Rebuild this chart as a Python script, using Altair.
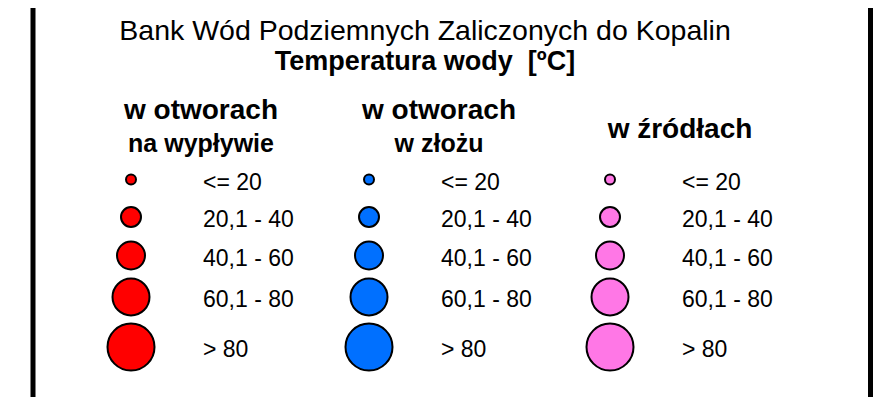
import altair as alt
import pandas as pd

# ---- data ----
group_ids = ["otwory_wyplyw", "otwory_zloze", "zrodla"]
header_line1 = ["w otworach", "w otworach", "w źródłach"]
header_line2 = ["na wypływie", "w złożu", ""]
group_colors = ["#FF0000", "#0070FF", "#FF77E6"]
classes = ["<= 20", "20,1 - 40", "40,1 - 60", "60,1 - 80", "> 80"]

title_text = "Bank Wód Podziemnych Zaliczonych do Kopalin"
subtitle_text = "Temperatura wody\u00a0\u00a0[ºC]"

rows = [{"group": g, "gi": i, "cls": c, "ci": j}
        for i, g in enumerate(group_ids) for j, c in enumerate(classes)]
df = pd.DataFrame(rows)
hdr = pd.DataFrame({"group": group_ids, "gi": list(range(len(group_ids))),
                    "line1": header_line1, "line2": header_line2})

FONT = "Liberation Sans"

x_scale = alt.Scale(domain=[0, 1, 2], range=[123, 361, 602])
y_scale = alt.Scale(domain=[0, 1, 2, 3, 4], range=[171.5, 209, 247.5, 289, 339])
x_enc = alt.X("gi:Q", scale=x_scale, axis=None)
y_enc = alt.Y("ci:Q", scale=y_scale, axis=None)

circles = alt.Chart(df).mark_point(shape="circle", filled=True, stroke="black", strokeWidth=2, opacity=1, fillOpacity=1, strokeOpacity=1).encode(
    x=x_enc,
    y=y_enc,
    size=alt.Size("cls:O", scale=alt.Scale(type="ordinal", domain=classes, range=[100, 400, 784, 1369, 2209]), legend=None),
    fill=alt.Fill("group:N", scale=alt.Scale(domain=group_ids, range=group_colors), legend=None),
)

labels = alt.Chart(df).mark_text(align="left", baseline="middle", dx=72, dy=3, fontSize=23, font=FONT, color="black").encode(
    x=x_enc, y=y_enc, text="cls:N"
)

h1 = alt.Chart(hdr).transform_filter("datum.line2 != ''").mark_text(
    align="center", baseline="middle", dx=70, fontSize=28, fontWeight="bold", font=FONT, color="black"
).encode(x=x_enc, y=alt.value(103), text="line1:N")

h2 = alt.Chart(hdr).transform_filter("datum.line2 != ''").mark_text(
    align="center", baseline="middle", dx=70, fontSize=25, fontWeight="bold", font=FONT, color="black"
).encode(x=x_enc, y=alt.value(136), text="line2:N")

h3 = alt.Chart(hdr).transform_filter("datum.line2 == ''").mark_text(
    align="center", baseline="middle", dx=70, fontSize=28, fontWeight="bold", font=FONT, color="black"
).encode(x=x_enc, y=alt.value(122), text="line1:N")

tdf = pd.DataFrame({"t": [title_text], "s": [subtitle_text]})
t1 = alt.Chart(tdf).mark_text(align="center", baseline="middle", fontSize=28.5, font=FONT, color="black").encode(
    x=alt.value(417), y=alt.value(23), text="t:N")
t2 = alt.Chart(tdf).mark_text(align="center", baseline="middle", fontSize=27, fontWeight="bold", font=FONT, color="black").encode(
    x=alt.value(417), y=alt.value(54), text="s:N")

left = alt.Chart(tdf).mark_rule(color="black", strokeWidth=5).encode(x=alt.value(25), y=alt.value(0), y2=alt.value(389))
right = alt.Chart(tdf).mark_rule(color="black", strokeWidth=5).encode(x=alt.value(862.5), y=alt.value(0), y2=alt.value(389))

chart = alt.layer(left, right, t1, t2, h1, h2, h3, circles, labels).properties(
    width=876, height=389, autosize="none", padding=0, background="white"
).configure_view(strokeWidth=0)

chart.save("out.html", embed_options={"renderer": "svg", "actions": False})
